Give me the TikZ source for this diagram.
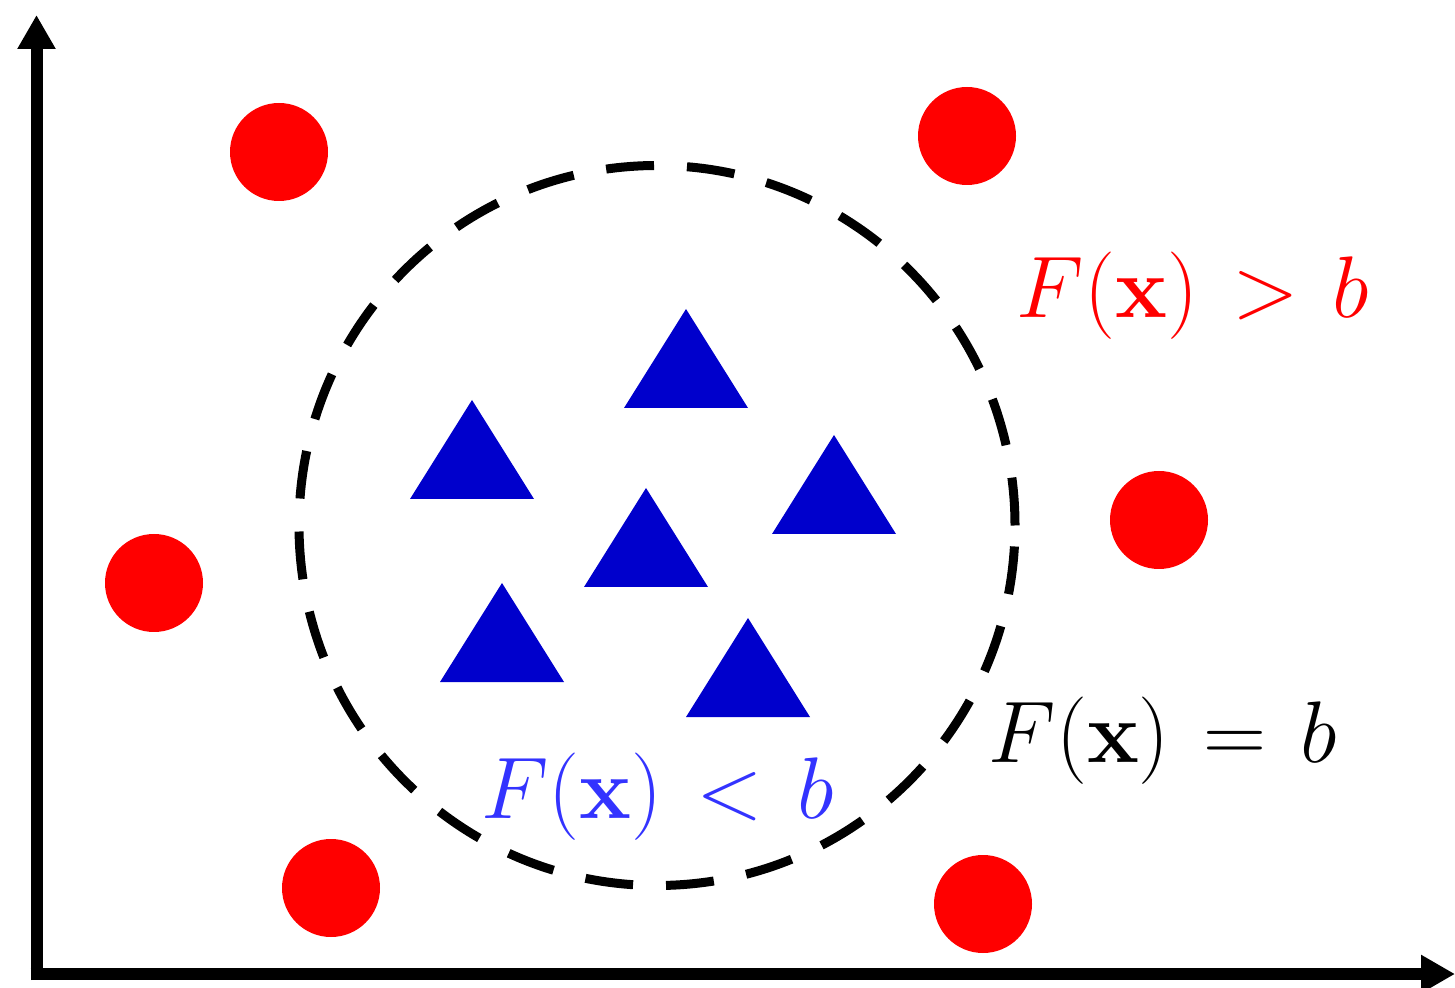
\documentclass[tikz,border=0pt]{standalone}
\usepackage{xcolor}
\usepackage{tikz}
\usetikzlibrary{arrows.meta}
\definecolor{dotred}{HTML}{FF0000}
\definecolor{triblue}{HTML}{0000CC}
\definecolor{lblblue}{HTML}{3333FF}

\begin{document}
\begin{tikzpicture}[
  axis/.style={line width=1.2mm,-{Triangle[length=3.4mm,width=3.6mm]}},
  reddot/.style={circle,fill=dotred,minimum size=9.8mm,inner sep=0pt},
  tri/.style={fill=triblue},
  boundary/.style={line width=0.9mm,dash pattern=on 4.8mm off 3.3mm},
  lbl/.style={font=\fontsize{28}{31}\selectfont,anchor=base,inner sep=0pt}
]
\useasboundingbox (0,0) rectangle (14.55,9.87);
% axes
\coordinate (origin) at (0.365,0.13);
\coordinate (ytip) at (0.365,9.72);
\coordinate (xtip) at (14.55,0.13);
\draw[axis] ([yshift=-0.06cm]origin) -- (ytip);
\draw[axis] ([xshift=-0.06cm]origin) -- (xtip);
% outer class
\node[reddot] (p1) at (2.79,8.35) {};
\node[reddot] (p2) at (9.67,8.51) {};
\node[reddot] (p3) at (11.59,4.67) {};
\node[reddot] (p4) at (1.54,4.04) {};
\node[reddot] (p5) at (3.31,0.99) {};
\node[reddot] (p6) at (9.83,0.83) {};
% decision boundary
\draw[boundary] (6.57,4.615) ellipse [x radius=3.58,y radius=3.6];
% inner class
\foreach \x/\y in {6.86/6.78,4.72/5.87,8.34/5.52,6.46/4.99,5.02/4.04,7.48/3.69}
  \fill[tri] (\x,\y) -- ++(-0.62,-0.99) -- ++(1.24,0) -- cycle;
% labels
\node[lbl,text=dotred] (above) at (11.93,6.69) {$F(\mathbf{x})\mkern2mu > \mkern2mu b$};
\node[lbl,text=black] (edge) at (11.63,2.25) {$F(\mathbf{x})\mkern2mu = \mkern2mu b$};
\node[lbl,text=lblblue] (below) at (6.575,1.69) {$F(\mathbf{x})\mkern2mu < \mkern2mu b$};
\end{tikzpicture}
\end{document}
